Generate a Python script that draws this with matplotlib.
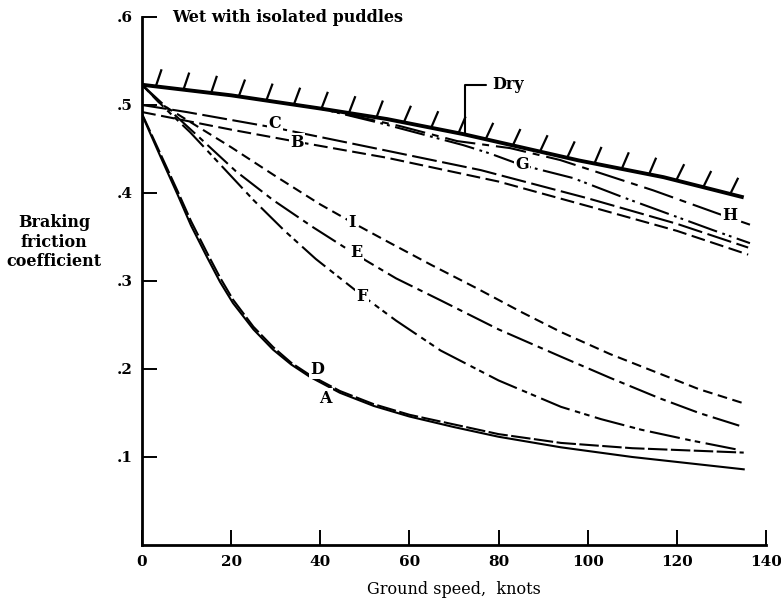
import numpy as np
import matplotlib
matplotlib.use("Agg")
from matplotlib import pyplot as plt
from matplotlib import patheffects

# Braking friction coefficient vs ground speed, wet runway with isolated puddles
# values

dry_x = [0, 20, 40, 55, 72, 98, 117, 135]
dry_y = [0.523, 0.511, 0.496, 0.484, 0.467, 0.437, 0.418, 0.395]

a_x = [0, 4, 8, 11, 14.6, 17.5, 20.4, 25, 29.4, 33.5, 37.7, 44.4, 52, 60, 70, 80, 94, 110, 135]
a_y = [0.489, 0.443, 0.398, 0.363, 0.327, 0.299, 0.275, 0.245, 0.222, 0.205, 0.191, 0.173,
       0.158, 0.146, 0.134, 0.123, 0.111, 0.100, 0.086]

d_x = [0, 4, 8, 11, 14.6, 17.5, 20.4, 25, 29.4, 33.5, 37.7, 44.4, 52, 60, 70, 80, 94, 110, 135]
d_y = [0.490, 0.446, 0.402, 0.368, 0.332, 0.304, 0.279, 0.248, 0.225, 0.207, 0.193, 0.175,
       0.160, 0.148, 0.137, 0.126, 0.116, 0.110, 0.105]

b_x = [0, 20, 35, 55, 80, 103, 120, 136]
b_y = [0.492, 0.472, 0.458, 0.440, 0.413, 0.381, 0.357, 0.330]

c_x = [0, 10, 30, 55, 76, 100, 120, 136]
c_y = [0.500, 0.492, 0.474, 0.448, 0.426, 0.394, 0.365, 0.338]

e_x = [0, 6, 13, 21, 29.4, 38.4, 48, 57, 67, 80, 94, 105, 116, 125, 135]
e_y = [0.523, 0.495, 0.4625, 0.425, 0.392, 0.361, 0.330, 0.303, 0.278, 0.245, 0.214, 0.190,
       0.167, 0.150, 0.134]

f_x = [0, 5, 10.8, 18, 25, 32, 39, 49, 57, 67, 80, 94, 103, 112, 123, 134]
f_y = [0.523, 0.497, 0.469, 0.430, 0.392, 0.357, 0.325, 0.285, 0.255, 0.221, 0.187, 0.157,
       0.143, 0.131, 0.119, 0.108]

i_x = [0, 4, 12, 20, 30, 40, 47, 55, 65, 75, 85, 94, 105, 116, 125, 135]
i_y = [0.523, 0.502, 0.477, 0.452, 0.419, 0.387, 0.367, 0.345, 0.318, 0.292, 0.265, 0.242,
       0.217, 0.195, 0.177, 0.161]

g_x = [0, 20, 40, 53.4, 72, 78, 85, 96.7, 108, 128, 136.4]
g_y = [0.523, 0.511, 0.496, 0.4795, 0.4545, 0.445, 0.432, 0.417, 0.395, 0.358, 0.343]

h_x = [0, 20, 40, 57.9, 70.7, 82.6, 93.8, 114.7, 129, 136.4]
h_y = [0.523, 0.511, 0.496, 0.476, 0.459, 0.451, 0.4375, 0.403, 0.377, 0.364]

# label positions (x, y) for curve letters
labels = {"C": (29.8, 0.479), "B": (34.8, 0.457), "I": (47.1, 0.367),
          "E": (48.2, 0.332), "F": (49.4, 0.282), "D": (39.3, 0.200),
          "A": (41.1, 0.167), "G": (85.3, 0.432), "H": (131.9, 0.375)}

xticks = [0, 20, 40, 60, 80, 100, 120, 140]
yticks = [0.1, 0.2, 0.3, 0.4, 0.5, 0.6]
ytick_labels = [".1", ".2", ".3", ".4", ".5", ".6"]

plt.rcParams["font.family"] = ["DejaVu Serif"]
plt.rcParams["font.weight"] = "bold"
plt.rcParams["font.size"] = 11.5
plt.rcParams["lines.scale_dashes"] = False

fig = plt.figure(figsize=(7.81, 6.07), dpi=100)
ax = fig.add_axes([142/781, 62/607, 624/781, 528/607])

lw = 1.5
ax.plot(dry_x, dry_y, color="black", lw=2.8, solid_capstyle="butt",
        path_effects=[patheffects.withTickedStroke(spacing=20, angle=78, length=0.65, linewidth=1.6)])
ax.plot(a_x, a_y, color="black", lw=lw)
ax.plot(d_x, d_y, color="black", lw=lw, dashes=(14, 2.5))
ax.plot(b_x, b_y, color="black", lw=lw, dashes=(10, 4))
ax.plot(c_x, c_y, color="black", lw=lw, dashes=(18, 4))
ax.plot(e_x, e_y, color="black", lw=lw, dashes=(20, 4, 4, 4))
ax.plot(f_x, f_y, color="black", lw=lw, dashes=(22, 4, 4, 3, 4, 4))
ax.plot(i_x, i_y, color="black", lw=lw, dashes=(7, 4))
ax.plot(g_x, g_y, color="black", lw=lw, dashes=(22, 4, 2, 3, 2, 4))
ax.plot(h_x, h_y, color="black", lw=lw, dashes=(22, 5, 5, 5))

for name, (lx, ly) in labels.items():
    ax.text(lx, ly, name, ha="center", va="center", zorder=5,
            bbox=dict(facecolor="white", edgecolor="none", pad=1))

ax.annotate("Dry", xy=(72.5, 0.467), xytext=(78.5, 0.523), ha="left", va="center",
            arrowprops=dict(arrowstyle="-", lw=1.5, shrinkA=2, shrinkB=0,
                            connectionstyle="angle,angleA=0,angleB=90,rad=0"))

ax.text(6.7, 0.6, "Wet with isolated puddles", ha="left", va="center")

ax.set_xlim(0, 140)
ax.set_ylim(0, 0.6)
ax.set_xticks(xticks)
ax.set_yticks(yticks)
ax.set_yticklabels(ytick_labels)
ax.tick_params(direction="in", length=11, width=1.4, pad=7, labelsize=11)
ax.spines["top"].set_visible(False)
ax.spines["right"].set_visible(False)
ax.spines["left"].set_linewidth(2)
ax.spines["bottom"].set_linewidth(2)

ax.set_xlabel("Ground speed,  knots", labelpad=9)
fig.text(54/781, 1 - 242/607, "Braking\nfriction\ncoefficient", ha="center", va="center",
         multialignment="center")

fig.savefig("out.png", dpi=100)
